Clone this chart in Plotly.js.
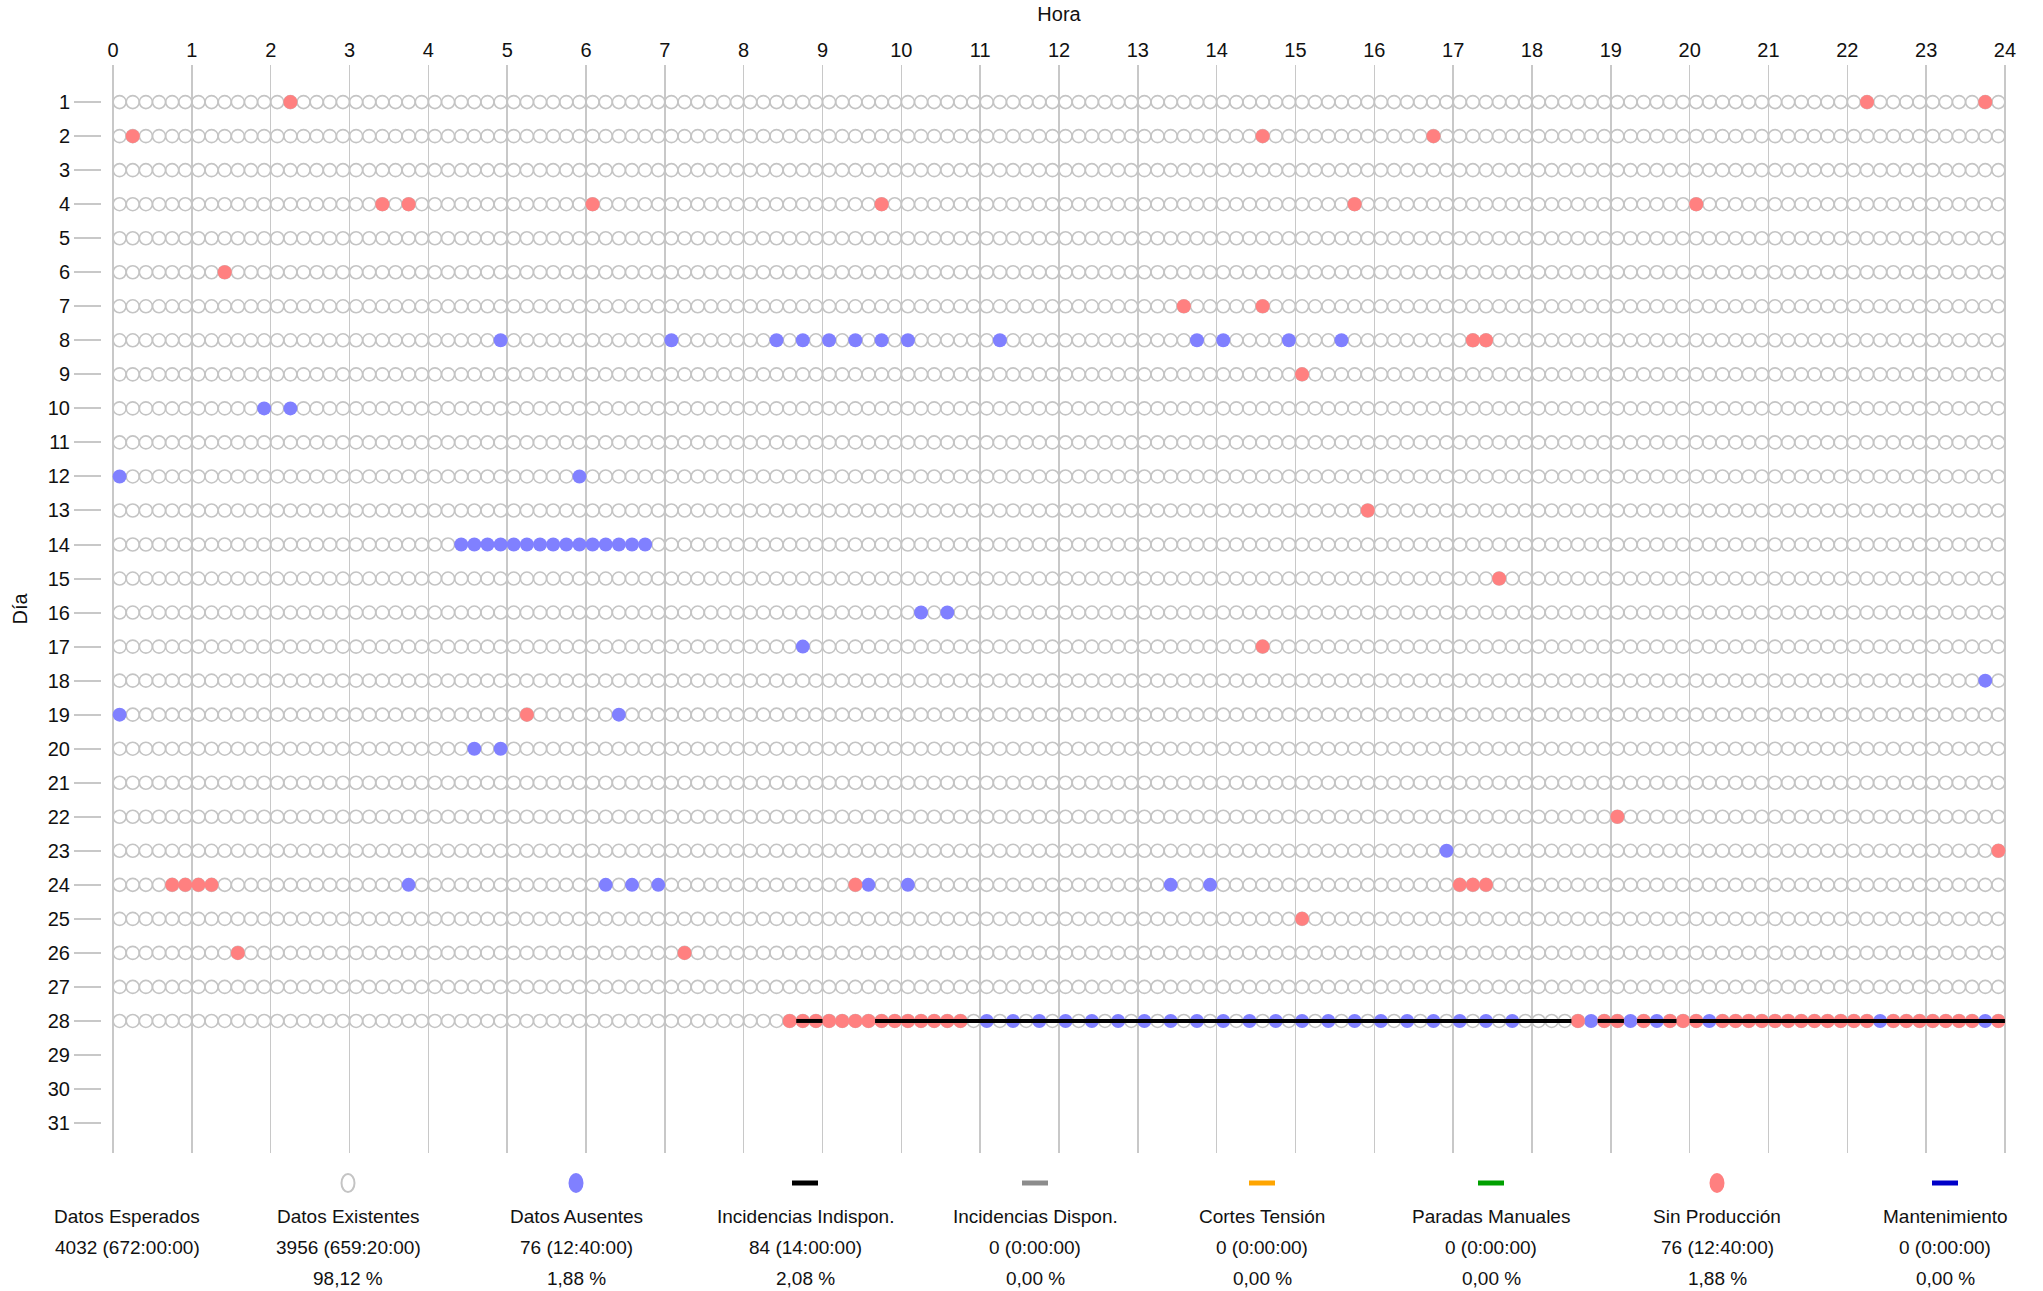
<!DOCTYPE html>
<html>
<head>
<meta charset="utf-8">
<script src="https://cdn.plot.ly/plotly-3.0.1.min.js"></script>
<style>html,body{margin:0;padding:0;background:#fff}#chart{width:2043px;height:1291px}</style>
</head>
<body>
<div id="chart"></div>
<script>
// ---------- DATA ----------
const horasTicks = [0,1,2,3,4,5,6,7,8,9,10,11,12,13,14,15,16,17,18,19,20,21,22,23,24];
const diasTicks = [1,2,3,4,5,6,7,8,9,10,11,12,13,14,15,16,17,18,19,20,21,22,23,24,25,26,27,28,29,30,31];
const diasConDatos = 28;          // days with expected data
const intervalosPorDia = 144;     // 10-minute records per day
const minutosIntervalo = 10;

// Datos Ausentes (start of 10-min interval)
const ausentesDia = [8, 10, 12, 14, 16, 17, 18, 19, 20, 23, 24, 28];
const ausentesHoras = [
  ['4:50','7:00','8:20','8:40','9:00','9:20','9:40','10:00','11:10','13:40','14:00','14:50','15:30'],
  ['1:50','2:10'],
  ['0:00','5:50'],
  ['4:20','4:30','4:40','4:50','5:00','5:10','5:20','5:30','5:40','5:50','6:00','6:10','6:20','6:30','6:40'],
  ['10:10','10:30'],
  ['8:40'],
  ['23:40'],
  ['0:00','6:20'],
  ['4:30','4:50'],
  ['16:50'],
  ['3:40','6:10','6:30','6:50','9:30','10:00','13:20','13:50'],
  ['11:00','11:20','11:40','12:00','12:20','12:40','13:00','13:20','13:40','14:00','14:20','14:40','15:00','15:20','15:40','16:00','16:20','16:40','17:00','17:20','17:40','18:40','19:10','19:30','20:10','22:20','23:40']
];

// Sin Producción
const sinProdDia = [1, 2, 4, 6, 7, 8, 9, 13, 15, 17, 19, 22, 23, 24, 25, 26, 28];
const sinProdHoras = [
  ['2:10','22:10','23:40'],
  ['0:10','14:30','16:40'],
  ['3:20','3:40','6:00','9:40','15:40','20:00'],
  ['1:20'],
  ['13:30','14:30'],
  ['17:10','17:20'],
  ['15:00'],
  ['15:50'],
  ['17:30'],
  ['14:30'],
  ['5:10'],
  ['19:00'],
  ['23:50'],
  ['0:40','0:50','1:00','1:10','9:20','17:00','17:10','17:20'],
  ['15:00'],
  ['1:30','7:10'],
  ['8:30','8:40','8:50','9:00','9:10','9:20','9:30','9:40','9:50','10:00','10:10','10:20','10:30','10:40',
   '18:30','18:50','19:00','19:20','19:40','19:50','20:00',
   '20:20','20:30','20:40','20:50','21:00','21:10','21:20','21:30','21:40','21:50','22:00','22:10',
   '22:30','22:40','22:50','23:00','23:10','23:20','23:30','23:50']
];

// Incidencias Indispon. (periods)
const incidDia = 28;
const incidInicio = ['8:40','9:40','18:50','19:20','20:00'];
const incidFin    = ['9:00','18:30','19:10','19:50','24:00'];

// Legend / summary texts
const leyendaNombres = ['Datos Esperados','Datos Existentes','Datos Ausentes','Incidencias Indispon.','Incidencias Dispon.','Cortes Tensión','Paradas Manuales','Sin Producción','Mantenimiento'];
const leyendaTotales = ['4032 (672:00:00)','3956 (659:20:00)','76 (12:40:00)','84 (14:00:00)','0 (0:00:00)','0 (0:00:00)','0 (0:00:00)','76 (12:40:00)','0 (0:00:00)'];
const leyendaPorcent = ['','98,12 %','1,88 %','2,08 %','0,00 %','0,00 %','0,00 %','1,88 %','0,00 %'];

// ---------- STYLE ----------
const C_GRIS = '#c4c4c4', C_AZUL = '#8080ff', C_ROJO = '#ff8080';
const leyendaSimbolo = [null,
  {t:'open', c:C_GRIS}, {t:'dot', c:C_AZUL}, {t:'bar', c:'#000000'}, {t:'bar', c:'#8c8c8c'},
  {t:'bar', c:'#ffa500'}, {t:'bar', c:'#00a000'}, {t:'dot', c:C_ROJO}, {t:'bar', c:'#0000c8'}];
const leyendaX = [127, 348, 576, 805, 1035, 1262, 1491, 1717, 1945];
const W = 2043, H = 1291, ML = 102, MR = 27, MT = 65, MB = 138;
const PW = W - ML - MR, PH = H - MT - MB;
const FONT = '"Liberation Sans", Arial, sans-serif';

// ---------- BUILD ----------
function toH(s){ const p = s.split(':').map(Number); return p[0] + p[1]/60; }
const mid = minutosIntervalo/2/60;

function flatten(dias, horas){
  const x = [], y = [];
  dias.forEach((d,i) => horas[i].forEach(h => { x.push(toH(h) + mid); y.push(d); }));
  return {x, y};
}
const aus = flatten(ausentesDia, ausentesHoras);
const sp = flatten(sinProdDia, sinProdHoras);

const ausSet = new Set();
ausentesDia.forEach((d,i) => ausentesHoras[i].forEach(h => ausSet.add(d + '|' + Math.round(toH(h)*60/minutosIntervalo))));
const exX = [], exY = [];
for (let d = 1; d <= diasConDatos; d++) {
  for (let k = 0; k < intervalosPorDia; k++) {
    if (ausSet.has(d + '|' + k)) continue;
    exX.push(k*minutosIntervalo/60 + mid); exY.push(d);
  }
}
const inX = [], inY = [];
incidInicio.forEach((s,i) => { inX.push(toH(s), toH(incidFin[i]), null); inY.push(incidDia, incidDia, null); });

const traces = [
  {type:'scatter', mode:'markers', name:'Datos Existentes', x:exX, y:exY, hoverinfo:'skip',
   marker:{symbol:'circle-open', size:13, color:C_GRIS, line:{width:1.6, color:C_GRIS}}},
  {type:'scatter', mode:'markers', name:'Datos Ausentes', x:aus.x, y:aus.y,
   marker:{symbol:'circle', size:14, color:C_AZUL, line:{width:0}}},
  {type:'scatter', mode:'markers', name:'Sin Producción', x:sp.x, y:sp.y,
   marker:{symbol:'circle', size:14, color:C_ROJO, line:{width:0}}},
  {type:'scatter', mode:'lines', name:'Incidencias Indispon.', x:inX, y:inY, connectgaps:false,
   line:{color:'#000000', width:4}}
];

const px = p => (p - ML)/PW;
const py = p => (H - MB - p)/PH;
const annotations = [], shapes = [];
const yNombre = 1216, yTotal = 1247, yPct = 1278, ySimb = 1183;
leyendaNombres.forEach((n,i) => {
  [[n,yNombre],[leyendaTotales[i],yTotal],[leyendaPorcent[i],yPct]].forEach(([t,yy]) => {
    if (!t) return;
    annotations.push({text:t, xref:'paper', yref:'paper', x:px(leyendaX[i]), y:py(yy),
      xanchor:'center', yanchor:'middle', showarrow:false, font:{family:FONT, size:19, color:'#111'}});
  });
  const s = leyendaSimbolo[i];
  if (!s) return;
  const base = {xref:'paper', yref:'paper', xsizemode:'pixel', ysizemode:'pixel',
    xanchor:px(leyendaX[i]), yanchor:py(ySimb)};
  if (s.t === 'bar') shapes.push(Object.assign({type:'rect', x0:-13, x1:13, y0:-2.5, y1:2.5, fillcolor:s.c, line:{width:0}}, base));
  else if (s.t === 'dot') shapes.push(Object.assign({type:'circle', x0:-7.5, x1:7.5, y0:-10, y1:10, fillcolor:s.c, line:{width:0}}, base));
  else shapes.push(Object.assign({type:'circle', x0:-6.5, x1:6.5, y0:-9, y1:9, fillcolor:'#ffffff', line:{width:2, color:s.c}}, base));
});

const layout = {
  width:W, height:H, margin:{l:ML, r:MR, t:MT, b:MB, pad:0},
  paper_bgcolor:'#ffffff', plot_bgcolor:'#ffffff', showlegend:false,
  font:{family:FONT, size:19, color:'#111'},
  xaxis:{side:'top', range:[-0.14, 24.14], tickvals:horasTicks, ticktext:horasTicks.map(String),
    showgrid:true, gridcolor:'#c8c8c8', gridwidth:1.5, zeroline:false, showline:false, ticks:'',
    ticklabelstandoff:3,
    tickfont:{size:20, color:'#111'}, title:{text:'Hora', font:{size:20, color:'#111'}, standoff:12}},
  yaxis:{range:[31.88, -0.09], tickvals:diasTicks, ticktext:diasTicks.map(String),
    showgrid:false, zeroline:false, showline:false, ticks:'outside', ticklen:27, tickwidth:2,
    tickcolor:'#c8c8c8', tickfont:{size:20, color:'#111'},
    title:{text:'Día', font:{size:20, color:'#111'}, standoff:14}},
  annotations, shapes
};
Plotly.newPlot('chart', traces, layout, {displayModeBar:false, staticPlot:true});
</script>
</body>
</html>
